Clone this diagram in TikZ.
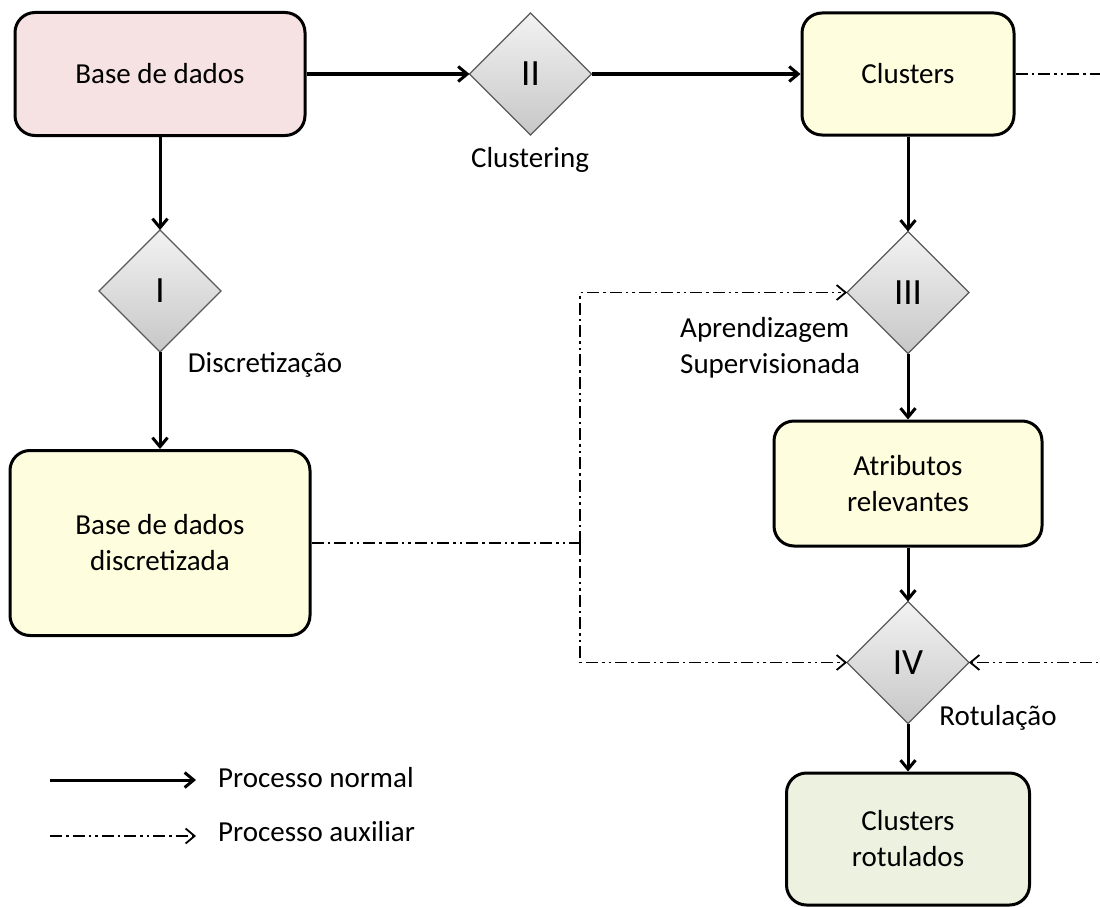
\documentclass[tikz,border=0pt]{standalone}
\usepackage{fontspec}
\setmainfont{Carlito}
\usetikzlibrary{arrows.meta,positioning,shapes.geometric}
\definecolor{fbase}{RGB}{246,226,226}
\definecolor{fres}{RGB}{254,253,222}
\definecolor{ffin}{RGB}{236,241,224}

\begin{document}
\begin{tikzpicture}[x=1pt,y=-1pt,>={Straight Barb[length=9pt,width=15pt]},
  box/.style={draw,line width=3pt,rounded corners=20pt,align=center,
              font=\fontsize{29}{36}\selectfont},
  dec/.style={diamond,aspect=1,draw=black!65,line width=1.3pt,
              top color=black!5,bottom color=black!22,inner sep=0pt,outer sep=0pt,
              minimum width=122pt,minimum height=122pt,
              font=\fontsize{37}{40}\selectfont},
  lab/.style={font=\fontsize{29}{36}\selectfont,align=left,inner sep=0pt},
  flow/.style={->,line width=3pt},
  auxline/.style={line width=1.8pt,
              dash pattern=on 12pt off 4pt on 2.5pt off 4pt on 12pt off 4pt on 2.5pt off 4pt on 2.5pt off 4pt},
  aux/.style={->,auxline}]
  \useasboundingbox (0,0) rectangle (1100,907);
  \clip (0,0) rectangle (1100,907);
  % main chain
  \node[box,fill=fbase,minimum width=290pt,minimum height=123pt] (base) at (160,74) {Base de dados};
  \node[dec,below=93pt of base] (dI) {I};
  \node[box,fill=fres,minimum width=300pt,minimum height=185pt,below=97pt of dI] (disc)
       {Base de dados\\ discretizada};
  \node[dec,right=163pt of base] (dII) {II};
  \node[box,fill=fres,minimum width=212pt,minimum height=122pt,right=209pt of dII] (clu) {Clusters};
  \node[dec,below=95pt of clu] (dIII) {III};
  \node[box,fill=fres,minimum width=268pt,minimum height=125pt,below=66pt of dIII] (attr)
       {Atributos\\ relevantes};
  \node[dec,below=54pt of attr] (dIV) {IV};
  \node[box,fill=ffin,minimum width=243pt,minimum height=132pt,below=48pt of dIV] (rot)
       {Clusters\\ rotulados};
  % step labels
  \node[lab] (tII) at (530,160) {Clustering};
  \node[lab] (tI) at (265,365) {Discretização};
  \node[lab,anchor=west] (tIII) at (680,348) {Aprendizagem\\ Supervisionada};
  \node[lab] (tIV) at (998,718) {Rotulação};
  \draw[flow] (base) -- (dI);
  \draw[flow] (dI) -- (disc);
  \draw[flow] (base) -- (dII);
  \draw[flow] (dII) -- (clu);
  \draw[flow] (clu) -- (dIII);
  \draw[flow] (dIII) -- (attr);
  \draw[flow] (attr) -- (dIV);
  \draw[flow] (dIV) -- (rot);
  % auxiliary links
  \coordinate (jn) at (580,543);
  \draw[auxline] (disc.east |- jn) -- (jn);
  \draw[aux] (jn) |- (dIII.west);
  \draw[aux] (jn) |- (dIV.west);
  \draw[aux] (clu.east) -- ++(130,0) |- (dIV.east);
  % legend
  \node[lab,anchor=west] (lnor) at (218,778) {Processo normal};
  \node[lab,anchor=west] (laux) at (218,832) {Processo auxiliar};
  \coordinate (lns) at (50,780);
  \coordinate (las) at (50,836);
  \draw[flow,shorten >=22pt] (lns) -- (lns -| lnor.west);
  \draw[aux,shorten >=22pt] (las) -- (las -| laux.west);
\end{tikzpicture}
\end{document}
